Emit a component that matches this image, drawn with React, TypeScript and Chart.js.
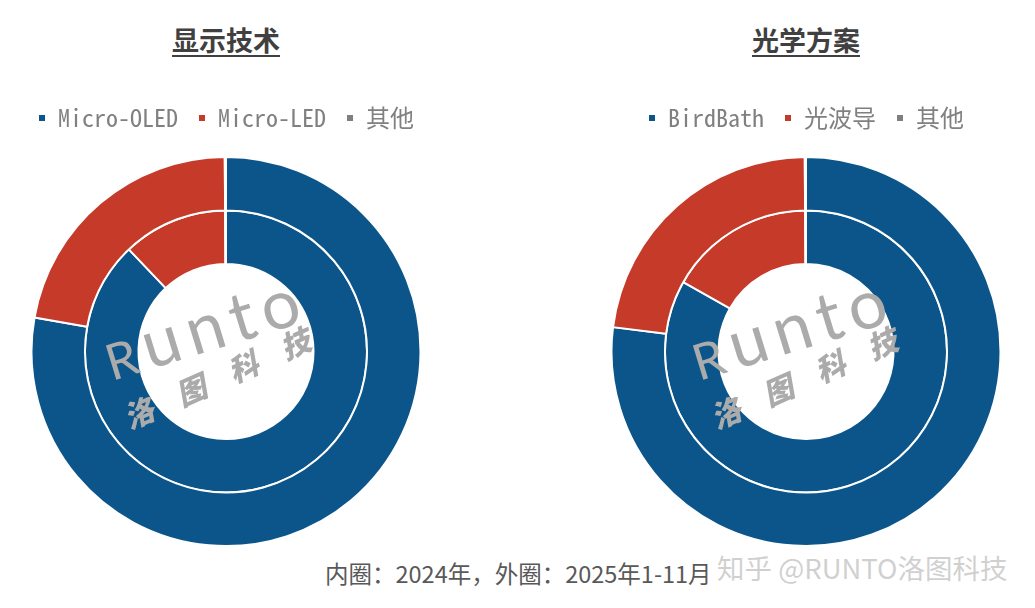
import React, { useEffect, useRef } from "react";
import { Chart, registerables } from "chart.js";

Chart.register(...registerables);

const displayCategories = ["Micro-OLED", "Micro-LED", "其他"];
const displayInner2024 = [87.9, 12.0, 0.1];
const displayOuter2025 = [77.8, 22.1, 0.1];

const opticsCategories = ["BirdBath", "光波导", "其他"];
const opticsInner2024 = [83.2, 16.7, 0.1];
const opticsOuter2025 = [77.0, 22.9, 0.1];

const sliceColors = ["#0c558a", "#c63a29", "#7f7f7f"];

const legendFont = "'Noto Sans Mono CJK SC', 'Noto Sans CJK SC', 'DejaVu Sans Mono', monospace";

const legendSpacer = {
  id: "legendSpacer",
  beforeInit(chart: any) {
    const legend = chart.legend;
    if (!legend) return;
    const origFit = legend.fit;
    legend.fit = function () {
      origFit.call(this);
      this.height += 16;
    };
  },
};

function Donut(props: { labels: string[]; inner: number[]; outer: number[]; left: number }) {
  const ref = useRef<HTMLCanvasElement | null>(null);
  useEffect(() => {
    if (!ref.current) return;
    const chart = new Chart(ref.current, {
      type: "doughnut",
      data: {
        labels: props.labels,
        datasets: [
          {
            label: "2025年1-11月",
            data: props.outer,
            backgroundColor: sliceColors,
            borderColor: "#ffffff",
            borderWidth: 2,
          },
          {
            label: "2024年",
            data: props.inner,
            backgroundColor: sliceColors,
            borderColor: "#ffffff",
            borderWidth: 2,
          },
        ],
      },
      plugins: [legendSpacer],
      options: {
        responsive: false,
        animation: false,
        cutout: "45%",
        layout: { padding: 0 },
        plugins: {
          title: { display: false },
          tooltip: { enabled: false },
          legend: {
            display: true,
            position: "top",
            labels: {
              boxWidth: 8,
              boxHeight: 8,
              padding: 20,
              color: "#808080",
              font: { family: legendFont, size: 24 },
            },
          },
        },
      },
    });
    return () => chart.destroy();
  }, []);
  return (
    <canvas
      ref={ref}
      width={452}
      height={461}
      style={{ position: "absolute", left: props.left, top: 86, width: 452, height: 461 }}
    />
  );
}

const titleStyle = (cx: number): React.CSSProperties => ({
  position: "absolute",
  left: cx - 150,
  width: 300,
  top: 21,
  textAlign: "center",
  fontFamily: "'Noto Sans CJK SC', sans-serif",
  fontWeight: 700,
  fontSize: 27,
  lineHeight: "38px",
  color: "#404040",
  textDecoration: "underline",
  textDecorationThickness: "2px",
  textUnderlineOffset: "4px",
});

function Logo(props: { dx: number }) {
  const grey = "#ababab";
  return (
    <>
      <div
        style={{
          position: "absolute",
          left: 112 + props.dx,
          top: 322,
          fontFamily: "Lato, 'Open Sans', sans-serif",
          fontSize: 68,
          lineHeight: "66px",
          height: 66,
          letterSpacing: "8px",
          color: grey,
          transform: "rotate(-17deg)",
          transformOrigin: "0px 59px",
          pointerEvents: "none",
          whiteSpace: "nowrap",
        }}
      >
        <span style={{ fontSize: 50 }}>R</span>unto
      </div>
      <div
        style={{
          position: "absolute",
          left: 129 + props.dx,
          top: 400,
          fontFamily: "'Noto Sans CJK SC', sans-serif",
          fontWeight: 900,
          fontStyle: "italic",
          fontSize: 30,
          lineHeight: "34px",
          letterSpacing: "27px",
          color: grey,
          transform: "rotate(-24deg)",
          transformOrigin: "0px 28px",
          pointerEvents: "none",
          whiteSpace: "nowrap",
        }}
      >
        洛图科技
      </div>
    </>
  );
}

export default function App() {
  useEffect(() => {
    document.body.style.margin = "0";
  }, []);
  return (
    <div style={{ position: "absolute", left: 0, top: 0, width: 1035, height: 608, background: "#ffffff", overflow: "hidden" }}>
      <div style={titleStyle(226)}>显示技术</div>
      <div style={titleStyle(806)}>光学方案</div>
      <Donut labels={displayCategories} inner={displayInner2024} outer={displayOuter2025} left={0} />
      <Donut labels={opticsCategories} inner={opticsInner2024} outer={opticsOuter2025} left={580} />
      <Logo dx={0} />
      <Logo dx={587} />
      <div
        style={{
          position: "absolute",
          left: 325,
          top: 558,
          fontFamily: "'Noto Sans CJK SC', sans-serif",
          fontSize: 23.5,
          lineHeight: "30px",
          color: "#595959",
          whiteSpace: "nowrap",
        }}
      >
        内圈：2024年，外圈：2025年1-11月
      </div>
      <div
        style={{
          position: "absolute",
          left: 717,
          top: 548,
          fontFamily: "'Noto Sans CJK SC', sans-serif",
          fontSize: 27.5,
          lineHeight: "38px",
          color: "rgba(200,200,200,0.85)",
          textShadow: "1px 1px 0 #ffffff",
          whiteSpace: "nowrap",
        }}
      >
        知乎 @RUNTO洛图科技
      </div>
    </div>
  );
}
